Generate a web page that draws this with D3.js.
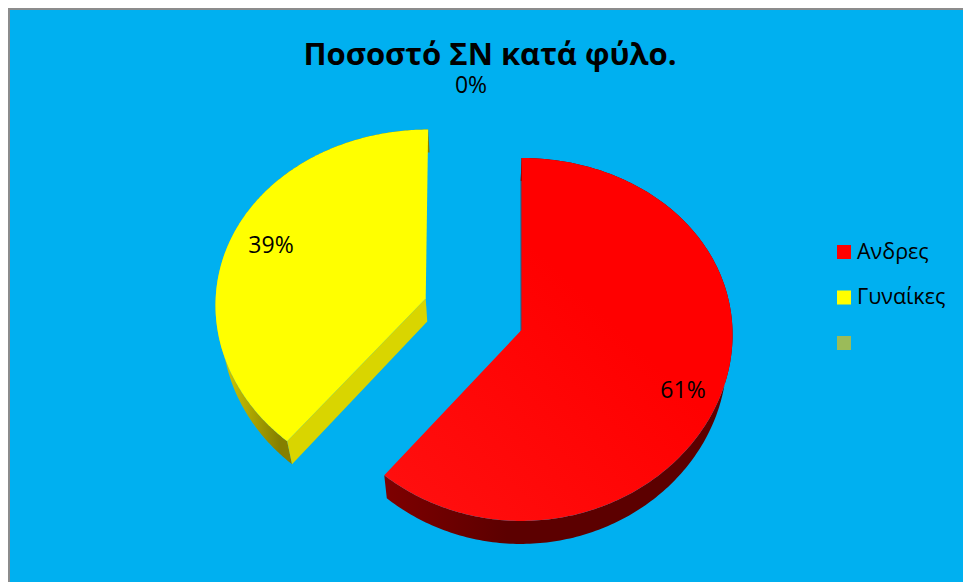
<!DOCTYPE html>
<html>
<head>
<meta charset="utf-8">
<script src="https://cdn.jsdelivr.net/npm/d3@7"></script>
<style>
  html, body { margin: 0; padding: 0; background: #fff; }
  svg { display: block; }
</style>
</head>
<body>
<svg id="chart" width="963" height="582"></svg>
<script>
const chartTitle = "Ποσοστό ΣΝ κατά φύλο.";
const categories = ["Ανδρες", "Γυναίκες", ""];
const shares = [61, 39, 0];
const keyColours = ["#ff0000", "#ffff00", "#9bbb59"];

// Shading of each slice: top face stops, outer wall stops, and the flat cut face
const topStops = [["#ff1010", "#ff0000"], ["#ffff00", "#ffff00"], ["#9bbb59", "#9bbb59"]];
const wallStops = [
  [[0, "#7e0000"], [0.35, "#5c0000"], [1, "#5c0000"]],
  [[0, "#d6cd00"], [0.07, "#c9c000"], [0.3, "#857f00"], [1, "#857f00"]],
  [[0, "#9bbb59"], [1, "#9bbb59"]]
];
const cutWallColours = ["#5c0000", "#d9d500", "#9bbb59"];
const sliceOffsets = [[0, 0], [-0.456, -0.175], [0, 0]];

const svg = d3.select("#chart");

svg.append("rect")
  .attr("x", 9).attr("y", 9).attr("width", 962).attr("height", 580)
  .attr("fill", "#00b0f0").attr("stroke", "#8c8c8c").attr("stroke-width", 2);

// Tilted-disc projection: the near edge of the pie is drawn larger than the far edge.
const centre = { x: 521.5, y: 330 };
const radiusX = 211, radiusY = 181, tilt = 0.052;
const depth = 23, vanishX = 490, shrink = 0.024;

function project(u, v) {
  const fx = 1 / (1 - tilt * 0.5 * v);
  const fy = 1 / (1 - tilt * v);
  return [centre.x + radiusX * u * fx, centre.y + radiusY * v * fy];
}
function lower(p) {
  return [p[0] + (vanishX - p[0]) * shrink, p[1] + depth];
}

const pie = d3.pie().sort(null).value(d => d);
const arcs = pie(shares);
const line = d3.line();

function rimPoint(a, i) {
  const [ou, ov] = sliceOffsets[i];
  return project(ou + Math.sin(a), ov - Math.cos(a));
}

const defs = svg.append("defs");
const pies = svg.append("g");

function addGradient(id, x1, y1, x2, y2, stops) {
  const grad = defs.append("linearGradient")
    .attr("id", id).attr("gradientUnits", "userSpaceOnUse")
    .attr("x1", x1).attr("y1", y1).attr("x2", x2).attr("y2", y2);
  stops.forEach(([offset, colour]) =>
    grad.append("stop").attr("offset", offset).attr("stop-color", colour));
}

arcs.forEach((arc, i) => {
  if (arc.endAngle - arc.startAngle <= 0) return;
  const steps = d3.range(0, 241).map(k => arc.startAngle + (arc.endAngle - arc.startAngle) * k / 240);
  const rim = steps.map(a => rimPoint(a, i));
  const apex = project(sliceOffsets[i][0], sliceOffsets[i][1]);
  const g = pies.append("g");
  const xs = d3.extent(rim, p => p[0]);
  const ys = d3.extent(rim, p => p[1]);

  // Outer wall with a horizontal shade running across the rim
  addGradient("wall" + i, xs[0], 0, xs[1], 0, wallStops[i]);
  g.append("path")
    .attr("d", line(rim.concat(rim.map(lower).reverse())) + "Z")
    .attr("fill", `url(#wall${i})`);

  // The cut face at the slice's leading edge; the trailing one stays out of view
  g.append("path")
    .attr("d", line([rim[0], apex, lower(apex), lower(rim[0])]) + "Z")
    .attr("fill", cutWallColours[i]);

  // Top face with a faint sheen from lower left to upper right
  addGradient("top" + i, xs[0], ys[1], xs[1], ys[0], topStops[i].map((c, k) => [k * 0.6, c]));
  g.append("path")
    .attr("d", line([apex].concat(rim)) + "Z")
    .attr("fill", `url(#top${i})`);
});

// Percentage labels
const labelPositions = [[683, 392], [271, 246.5], [471, 86.5]];
svg.append("g").selectAll("text").data(arcs).join("text")
  .attr("x", (d, i) => labelPositions[i][0])
  .attr("y", (d, i) => labelPositions[i][1])
  .attr("text-anchor", "middle").attr("dominant-baseline", "middle")
  .attr("font-family", "'Open Sans', sans-serif").attr("font-size", 23)
  .attr("fill", "#000")
  .text(d => `${d.data}%`);

svg.append("text")
  .attr("x", 490).attr("y", 65).attr("text-anchor", "middle")
  .attr("font-family", "'Open Sans', sans-serif").attr("font-weight", 700).attr("font-size", 31)
  .attr("fill", "#000").text(chartTitle);

// Legend
const legendRow = d3.scalePoint().domain(d3.range(categories.length)).range([252, 343]);
const legend = svg.append("g").selectAll("g").data(categories).join("g")
  .attr("transform", (d, i) => `translate(837,${legendRow(i)})`);
legend.append("rect")
  .attr("x", 0).attr("y", -7).attr("width", 14).attr("height", 14)
  .attr("fill", (d, i) => keyColours[i]);
legend.append("text")
  .attr("x", 20).attr("y", 1).attr("dominant-baseline", "middle")
  .attr("font-family", "'Open Sans', sans-serif").attr("font-size", 21.5)
  .attr("fill", "#000").text(d => d);
</script>
</body>
</html>
